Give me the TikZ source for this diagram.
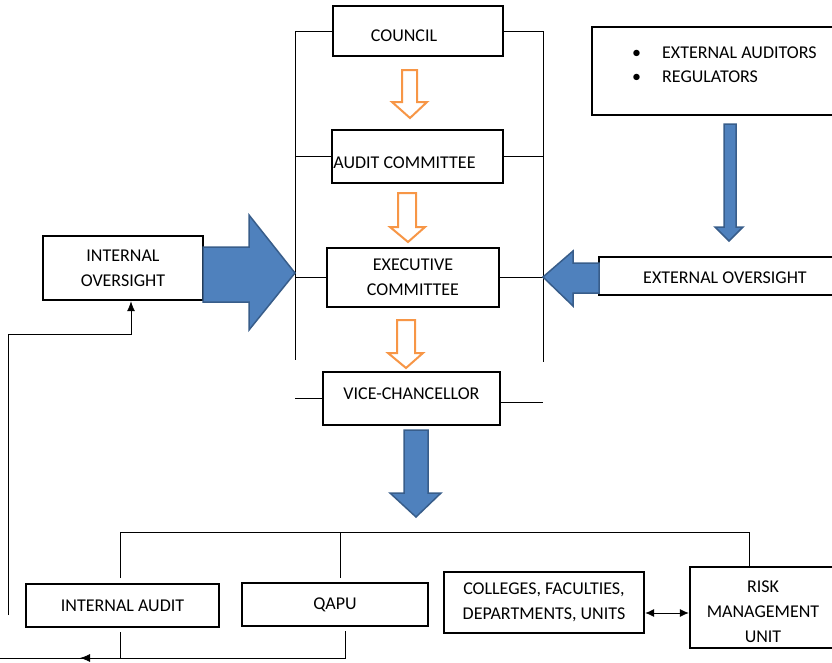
\documentclass[tikz,border=0pt]{standalone}
\usepackage{fontspec}
\setmainfont{Carlito}
\usetikzlibrary{arrows.meta}
\definecolor{officeblue}{HTML}{4F81BD}
\definecolor{officeblueline}{HTML}{385D8A}
\definecolor{officeorange}{HTML}{F79646}
\tikzset{
  box/.style={draw, line width=2.4pt, rectangle, align=center, inner sep=0pt,
    font=\fontsize{18}{25}\selectfont},
  txt/.style={align=left, inner sep=0pt, font=\fontsize{18}{24}\selectfont},
  link/.style={line width=0.8pt},
  arrowtip/.style={-{Latex[length=10pt,width=8pt]}},
  twotips/.style={{Latex[length=9pt,width=8pt]}-{Latex[length=9pt,width=8pt]}},
  bluearrow/.style={draw=officeblueline, fill=officeblue, line width=1.5pt, line join=miter},
  hollowarrow/.style={draw=officeorange, fill=white, line width=2pt, line join=miter},
}

\begin{document}
\begin{tikzpicture}[x=1pt,y=-1pt]
    \useasboundingbox (0,0) rectangle (832,662);

    \node[box, minimum width=170pt, minimum height=50pt] (council) at (418,31) {\hspace*{-28pt}\raisebox{-5pt}[\height][\depth]{COUNCIL}};
    \node[box, minimum width=171pt, minimum height=53pt] (audit) at (417.5,156.5) {\hspace*{-26pt}\raisebox{-6pt}[\height][\depth]{AUDIT COMMITTEE}};
    \node[box, minimum width=172pt, minimum height=59pt] (exec) at (413,277.5) {EXECUTIVE\\COMMITTEE};
    \node[box, minimum width=177pt, minimum height=53pt] (vc) at (411.5,398.5) {\raisebox{5pt}[\height][\depth]{VICE-CHANCELLOR}};
    \node[box, minimum width=160pt, minimum height=64pt] (intov) at (123,268) {INTERNAL\\OVERSIGHT};
    \node[box, minimum width=252pt, minimum height=38pt] (extov) at (725,276) {\raisebox{-2pt}[\height][\depth]{EXTERNAL OVERSIGHT}};
    \node[box, minimum width=259pt, minimum height=88pt, anchor=north west] (extbox) at (591,26) {};
    \node[txt, anchor=west] (extlist) at (632,65) {\textbullet\hspace*{21pt}EXTERNAL AUDITORS\\\textbullet\hspace*{21pt}REGULATORS};
    \node[box, minimum width=193pt, minimum height=43pt] (intaudit) at (122.5,605.5) {INTERNAL AUDIT};
    \node[box, minimum width=186pt, minimum height=43pt] (qapu) at (335,604.5) {QAPU};
    \node[box, minimum width=200pt, minimum height=61pt] (colleges) at (544,602.5) {COLLEGES, FACULTIES,\\DEPARTMENTS, UNITS};
    \node[box, minimum width=146pt, minimum height=81pt,
      label={[box, draw=none, yshift=-4pt]center:RISK\\MANAGEMENT\\UNIT}] (rmu) at (763,607.5) {};

    \coordinate (lb) at (295,360);
    \coordinate (rb) at (543,362);
    \coordinate (lvc) at (295,399);
    \coordinate (rvc) at (543,402);
    \coordinate (twoway) at (0,613);

    \draw[link] (council.west) -| (lb);
    \draw[link] (council.east) -| (rb);
    \draw[link] (audit.west) -- (audit.west -| lb);
    \draw[link] (audit.east) -- (audit.east -| rb);
    \draw[link] (exec.west) -- (exec.west -| lb);
    \draw[link] (exec.east) -- (exec.east -| rb);
    \draw[link] (vc.west) -- (vc.west -| lvc);
    \draw[link] (vc.east |- rvc) -- (rvc);

    \draw[hollowarrow] (402,70) -- (417,70) -- (417,102) -- (427,102) -- (410,118) -- (392,102) -- (402,102) -- cycle;
    \draw[hollowarrow] (398,193) -- (416,193) -- (416,227) -- (425,227) -- (408,242) -- (390,227) -- (398,227) -- cycle;
    \draw[hollowarrow] (397,320) -- (415,320) -- (415,353) -- (423,353) -- (406,368) -- (388,353) -- (397,353) -- cycle;

    \draw[bluearrow] (203,247) -- (249,247) -- (249,215) -- (295,273) -- (249,330) -- (249,302) -- (203,302) -- cycle;
    \draw[bluearrow] (599,263) -- (573,263) -- (573,251) -- (543,277) -- (573,306) -- (573,293) -- (599,293) -- cycle;
    \draw[bluearrow] (724,124) -- (736,124) -- (736,227) -- (743,227) -- (729,241) -- (715,227) -- (724,227) -- cycle;
    \draw[bluearrow] (404,430) -- (428,430) -- (428,493) -- (441,493) -- (416,517) -- (390,493) -- (404,493) -- cycle;

    \draw[link] (120,578) |- (749,532) -- (749,567);
    \draw[link] (340,532) -- (340,578);
    \draw[link] (120,632) -- (120,658);
    \draw[link] (345,631) -- (345,658) -- (0,658);
    \draw[link, arrowtip] (345,658) -- (80,658);
    \draw[link, arrowtip] (8,615) |- (131,334) -- (intov.south -| 131,0);
    \draw[link, twotips] (colleges.east |- twoway) -- (rmu.west |- twoway);
\end{tikzpicture}
\end{document}
